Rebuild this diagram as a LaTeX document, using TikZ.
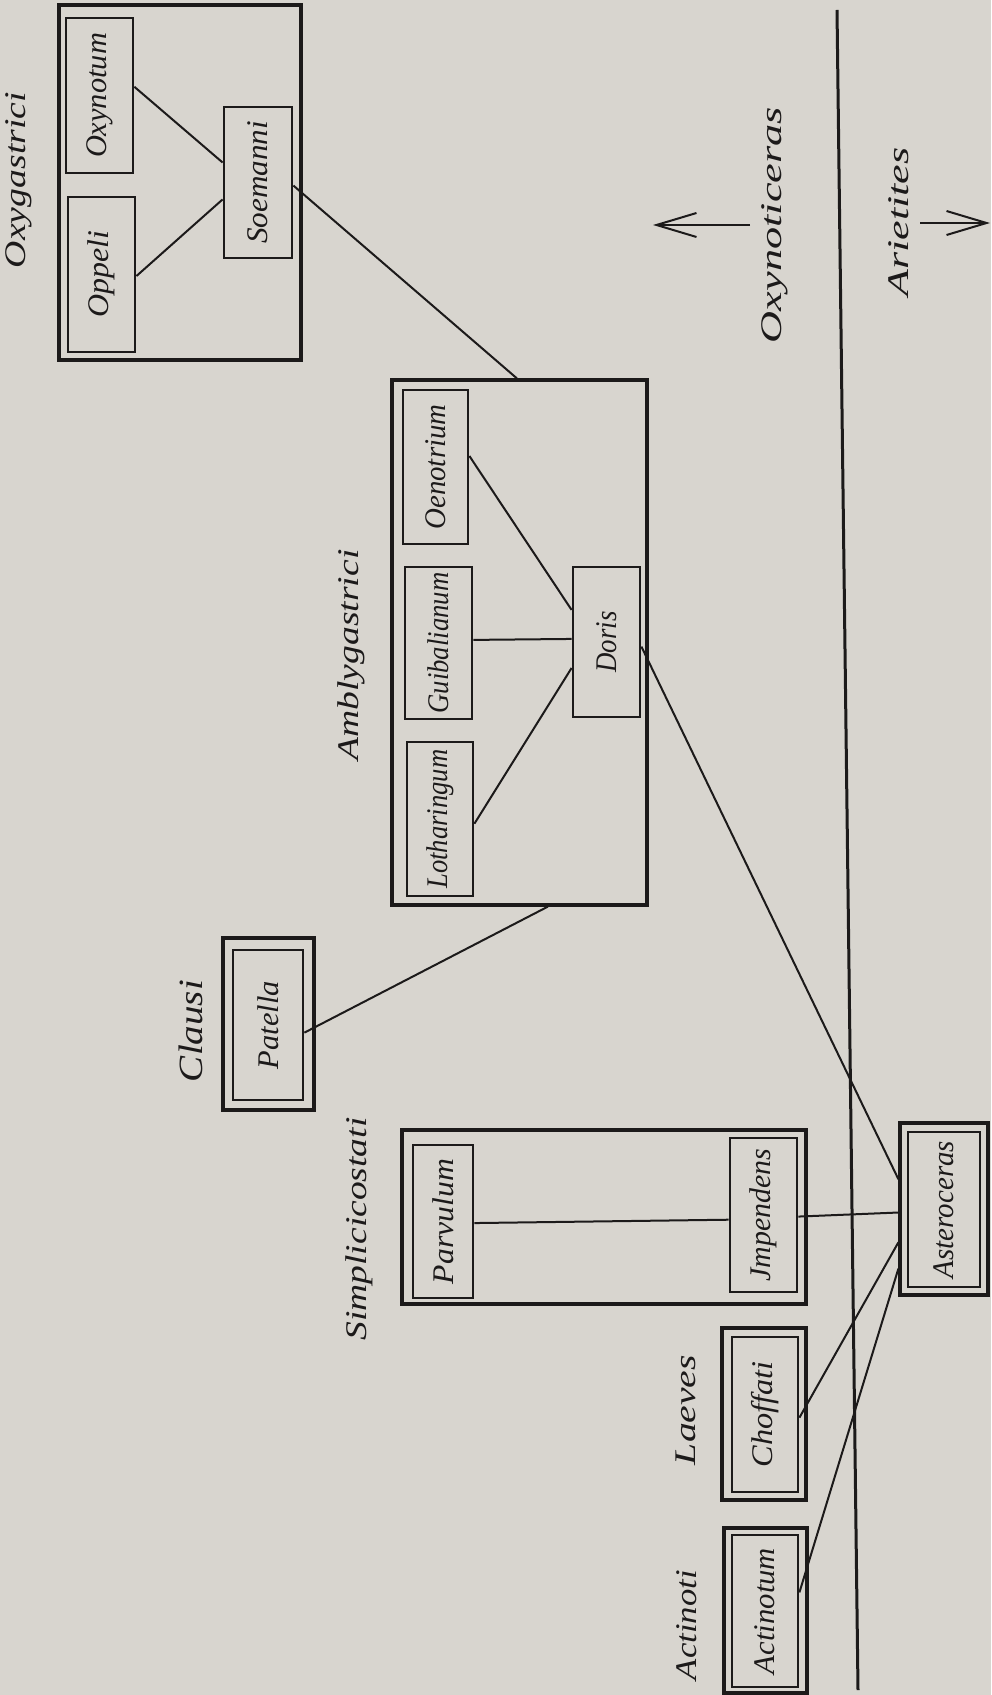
\documentclass[tikz,border=0pt]{standalone}
\usepackage{fontspec}
\setmainfont{Liberation Serif}
\usetikzlibrary{calc,arrows.meta}
\definecolor{paper}{RGB}{216,213,207}
\definecolor{ink}{RGB}{28,26,26}
\newcommand{\rt}[2]{\rotatebox{90}{\resizebox{#1}{\height}{\itshape #2}}}
\tikzset{
  gbox/.style={draw=ink, line width=1.6pt, inner sep=0pt, rectangle},
  sbox/.style={draw=ink, line width=1.4pt, inner sep=0pt, rectangle, font=\fontsize{15pt}{18pt}\selectfont, text=ink},
  lbl/.style={inner sep=0pt, font=\fontsize{15pt}{18pt}\selectfont, text=ink},
  conn/.style={draw=ink, line width=1.0pt},
  arr/.style={draw=ink, line width=1.0pt, -{Straight Barb[length=20pt,width=12pt,line width=1.0pt]}}
}
\begin{document}
\begin{tikzpicture}[x=0.5pt,y=-0.5pt]
\fill[paper] (0,0) rectangle (991,1695);
\useasboundingbox (0,0) rectangle (991,1695);

% Oxygastrici group
\node[lbl] (l-oxyg) at (19,180) {\rt{88pt}{Oxygastrici}};
\node[gbox, minimum width=121pt, minimum height=177.5pt] (oxyg) at (180,182.5) {};
\node[sbox, minimum width=33.5pt, minimum height=77.5pt] (oxynotum) at (99.5,95.5) {\rt{62.5pt}{Oxynotum}};
\node[sbox, minimum width=33.5pt, minimum height=77.5pt] (oppeli) at (101.5,274.5) {\rt{43.5pt}{Oppeli}};
\node[sbox, minimum width=34pt, minimum height=75.5pt] (soemanni) at (258,182.5) {\rt{61.5pt}{Soemanni}};

% Oxynoticeras / Arietites
\node[lbl] (l-oxyn) at (775,225) {\rt{118pt}{Oxynoticeras}};
\node[lbl] (l-ariet) at (899,222) {\rt{74.5pt}{Arietites}};
\coordinate (oxyn-tail) at (750,225);
\coordinate (oxyn-head) at (653,225);
\coordinate (ariet-tail) at (920,223);
\coordinate (ariet-head) at (990,223);
\draw[arr] (oxyn-tail) -- (oxyn-head);
\draw[arr] (ariet-tail) -- (ariet-head);
\coordinate (ltop) at (837,10);
\coordinate (lbot) at (858,1690);
\draw[draw=ink, line width=1.5pt] (ltop) -- (lbot);

% Amblygastrici group
\node[lbl] (l-ambly) at (351,655) {\rt{105.5pt}{Amblygastrici}};
\node[gbox, minimum width=127.5pt, minimum height=262.5pt] (ambly) at (519.5,642.5) {};
\node[sbox, minimum width=32.5pt, minimum height=77pt] (oenotrium) at (435.5,467) {\rt{62.5pt}{Oenotrium}};
\node[sbox, minimum width=33.5pt, minimum height=76pt] (guib) at (438.5,643) {\rt{70.5pt}{Guibalianum}};
\node[sbox, minimum width=33pt, minimum height=77pt] (loth) at (440,819) {\rt{69.5pt}{Lotharingum}};
\node[sbox, minimum width=33.5pt, minimum height=75pt] (doris) at (606.5,642) {\rt{30.5pt}{Doris}};

% Clausi
\node[lbl, font=\fontsize{17pt}{20pt}\selectfont] (l-clausi) at (191,1031) {\rt{51pt}{Clausi}};
\node[gbox, minimum width=45.5pt, minimum height=86pt] (patella) at (268.5,1024) {};
\node[sbox, minimum width=35pt, minimum height=75pt] (patella-in) at (268,1025) {\rt{44pt}{Patella}};

% Simplicicostati
\node[lbl] (l-simpl) at (359,1229) {\rt{111.5pt}{Simplicicostati}};
\node[gbox, minimum width=202pt, minimum height=87pt] (simpl) at (604,1217) {};
\node[sbox, minimum width=30pt, minimum height=76.5pt] (parvulum) at (443,1221.5) {\rt{62.5pt}{Parvulum}};
\node[sbox, minimum width=33.5pt, minimum height=77pt] (impendens) at (763.5,1215) {\rt{66.5pt}{Jmpendens}};

% Asteroceras
\node[gbox, minimum width=44pt, minimum height=86pt] (aster) at (944,1209) {};
\node[sbox, minimum width=36pt, minimum height=77.5pt] (aster-in) at (944,1209.5) {\rt{68.5pt}{Asteroceras}};

% Laeves
\node[lbl] (l-laeves) at (686,1410) {\rt{55pt}{Laeves}};
\node[gbox, minimum width=42pt, minimum height=86pt] (choffati) at (764,1414) {};
\node[sbox, minimum width=33pt, minimum height=77.5pt] (choffati-in) at (765,1414.5) {\rt{53pt}{Choffati}};

% Actinoti
\node[lbl] (l-actinoti) at (687,1625) {\rt{55pt}{Actinoti}};
\node[gbox, minimum width=41.5pt, minimum height=82.5pt] (actinotum) at (765.5,1610.5) {};
\node[sbox, minimum width=33pt, minimum height=76pt] (actinotum-in) at (765,1611) {\rt{63pt}{Actinotum}};

% connectors
\draw[conn] ($(oxynotum.north east)!0.445!(oxynotum.south east)$) -- ($(soemanni.north west)!0.37!(soemanni.south west)$);
\draw[conn] ($(oppeli.north east)!0.51!(oppeli.south east)$) -- ($(soemanni.north west)!0.61!(soemanni.south west)$);
\draw[conn] ($(soemanni.north east)!0.52!(soemanni.south east)$) -- ($(ambly.north west)!0.49!(ambly.north east)$);
\draw[conn] ($(oenotrium.north east)!0.43!(oenotrium.south east)$) -- ($(doris.north west)!0.29!(doris.south west)$);
\draw[conn] ($(guib.north east)!0.48!(guib.south east)$) -- ($(doris.north west)!0.48!(doris.south west)$);
\draw[conn] ($(loth.north east)!0.53!(loth.south east)$) -- ($(doris.north west)!0.67!(doris.south west)$);
\draw[conn] ($(doris.north east)!0.53!(doris.south east)$) -- ($(aster.north west)!0.33!(aster.south west)$);
\draw[conn] ($(patella-in.north east)!0.55!(patella-in.south east)$) -- ($(ambly.south west)!0.61!(ambly.south east)$);
\draw[conn] ($(parvulum.north east)!0.51!(parvulum.south east)$) -- ($(impendens.north west)!0.53!(impendens.south west)$);
\draw[conn] ($(impendens.north east)!0.51!(impendens.south east)$) -- ($(aster.north west)!0.52!(aster.south west)$);
\draw[conn] ($(aster.north west)!0.69!(aster.south west)$) -- ($(choffati-in.north east)!0.52!(choffati-in.south east)$);
\draw[conn] ($(aster.north west)!0.84!(aster.south west)$) -- ($(actinotum-in.north east)!0.38!(actinotum-in.south east)$);
\end{tikzpicture}
\end{document}
